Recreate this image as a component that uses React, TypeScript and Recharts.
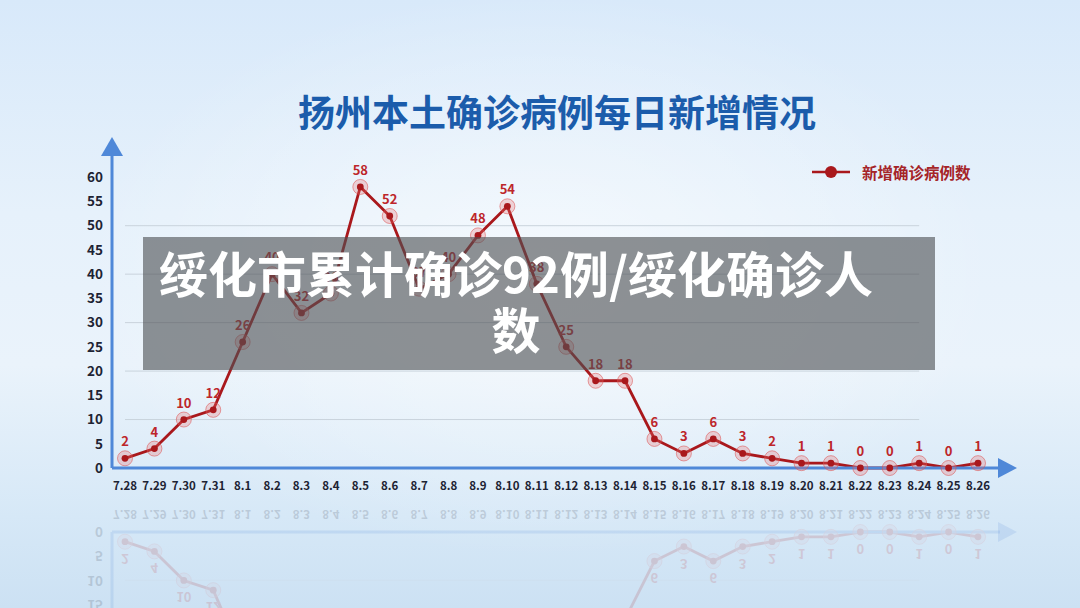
import React from 'react';
import { LineChart, Line, XAxis, YAxis, ReferenceLine, LabelList } from 'recharts';

// dates on the x axis
const days = [
  '7.28', '7.29', '7.30', '7.31', '8.1', '8.2', '8.3', '8.4', '8.5', '8.6',
  '8.7', '8.8', '8.9', '8.10', '8.11', '8.12', '8.13', '8.14', '8.15', '8.16',
  '8.17', '8.18', '8.19', '8.20', '8.21', '8.22', '8.23', '8.24', '8.25', '8.26',
];
// 新增确诊病例数 (values partly hidden by the banner are estimated)
const newCases = [
  2, 4, 10, 12, 26, 40, 32, 36, 58, 52,
  37, 40, 48, 54, 38, 25, 18, 18, 6, 3,
  6, 3, 2, 1, 1, 0, 0, 1, 0, 1,
];
const yTicks = [0, 5, 10, 15, 20, 25, 30, 35, 40, 45, 50, 55, 60];
const gridValues = [10, 20, 30, 40, 50];

const title = '扬州本土确诊病例每日新增情况';
const seriesName = '新增确诊病例数';
const bannerLine1 = '绥化市累计确诊92例/绥化确诊人';
const bannerLine2 = '数';

const chartData = days.map((d, i) => ({ day: d, value: newCases[i] }));

const FONT = '"Noto Sans CJK SC", "Noto Sans", sans-serif';
const RED = '#a9181c';
const AXIS_BLUE = '#4f88d8';

const Dot = (props: any) => {
  const { cx, cy, index } = props;
  if (cx == null || cy == null) return <g key={index} />;
  return (
    <g key={`dot-${index}`}>
      <circle cx={cx} cy={cy} r={7.5} fill="rgba(235,110,110,0.28)" stroke="rgba(220,80,80,0.55)" strokeWidth={1} />
      <circle cx={cx} cy={cy} r={3.4} fill={RED} />
    </g>
  );
};

const Chart = () => (
  <LineChart
    width={1080}
    height={608}
    data={chartData}
    margin={{ top: 153, right: 80, bottom: 110, left: 62 }}
  >
    {gridValues.map(v => (
      <ReferenceLine
        key={v}
        segment={[{ x: '7.28', y: v }, { x: '8.24', y: v }]}
        stroke="#c9d3dc"
        strokeWidth={1}
      />
    ))}
    <XAxis
      dataKey="day"
      interval={0}
      padding={{ left: 13, right: 22 }}
      axisLine={{ stroke: AXIS_BLUE, strokeWidth: 3 }}
      tickLine={false}
      tickMargin={8}
      height={30}
      tick={{ fill: '#1d2333', fontSize: 11.5, fontWeight: 700, fontFamily: FONT }}
    />
    <YAxis
      domain={[0, 65]}
      ticks={yTicks}
      interval={0}
      width={50}
      axisLine={{ stroke: AXIS_BLUE, strokeWidth: 3 }}
      tickLine={false}
      tickMargin={3}
      tick={{ fill: '#1d2333', fontSize: 13.5, fontWeight: 700, fontFamily: FONT }}
    />
    <Line
      type="linear"
      dataKey="value"
      stroke={RED}
      strokeWidth={2.8}
      dot={Dot}
      activeDot={false}
      isAnimationActive={false}
    >
      <LabelList
        dataKey="value"
        position="top"
        offset={12}
        fill="#bd262a"
        fontSize={13}
        fontWeight={700}
        fontFamily={FONT}
      />
    </Line>
  </LineChart>
);

export default function App() {
  return (
    <div
      style={{
        position: 'absolute',
        left: 0,
        top: 0,
        width: 1080,
        height: 608,
        overflow: 'hidden',
        fontFamily: FONT,
        background:
          'linear-gradient(180deg, #d8e9fa 0%, #e6f1fb 35%, #eaf3fb 60%, #d6e8f7 85%, #cce1f3 100%)',
      }}
    >
      {/* soft light glow */}
      <div
        style={{
          position: 'absolute',
          inset: 0,
          background:
            'radial-gradient(ellipse at 50% 45%, rgba(255,255,255,0.55) 0%, rgba(255,255,255,0) 60%)',
        }}
      />

      {/* reflection */}
      <div
        style={{
          position: 'absolute',
          left: 0,
          top: 0,
          width: 1080,
          height: 608,
          transform: 'scaleY(-1)',
          transformOrigin: '50% 500px',
          opacity: 0.15,
        }}
      >
        <Chart />
      </div>

      <div style={{ position: 'absolute', left: 0, top: 0 }}>
        <Chart />
      </div>

      {/* axis arrows */}
      <svg width={1080} height={608} style={{ position: 'absolute', left: 0, top: 0 }}>
        <polygon points="112,137 101,156 123,156" fill={AXIS_BLUE} />
        <polygon points="1017,468 998,458 998,478" fill={AXIS_BLUE} />
        <polygon points="1017,532 998,522 998,542" fill={AXIS_BLUE} opacity={0.15} />
      </svg>

      <div
        style={{
          position: 'absolute',
          left: 0,
          width: 1080,
          top: 87,
          textAlign: 'center',
          fontSize: 37,
          fontWeight: 700,
          color: '#1b5cab',
          lineHeight: '48px',
          paddingLeft: 34,
          boxSizing: 'border-box',
        }}
      >
        {title}
      </div>

      {/* legend */}
      <div style={{ position: 'absolute', left: 810, top: 160, display: 'flex', alignItems: 'center' }}>
        <svg width={42} height={24}>
          <line x1={2} y1={12} x2={40} y2={12} stroke={RED} strokeWidth={2.5} />
          <circle cx={21} cy={12} r={6} fill={RED} />
        </svg>
        <span style={{ marginLeft: 10, fontSize: 15.5, fontWeight: 700, color: '#a52428' }}>{seriesName}</span>
      </div>

      {/* banner */}
      <div
        style={{
          position: 'absolute',
          left: 143,
          top: 237,
          width: 792,
          height: 133,
          background: 'rgba(78,80,84,0.62)',
          color: '#ffffff',
          fontSize: 49,
          fontWeight: 700,
          lineHeight: '56px',
          textAlign: 'center',
          paddingTop: 7,
          paddingRight: 46,
          boxSizing: 'border-box',
          whiteSpace: 'nowrap',
        }}
      >
        {bannerLine1}
        <br />
        {bannerLine2}
      </div>
    </div>
  );
}
